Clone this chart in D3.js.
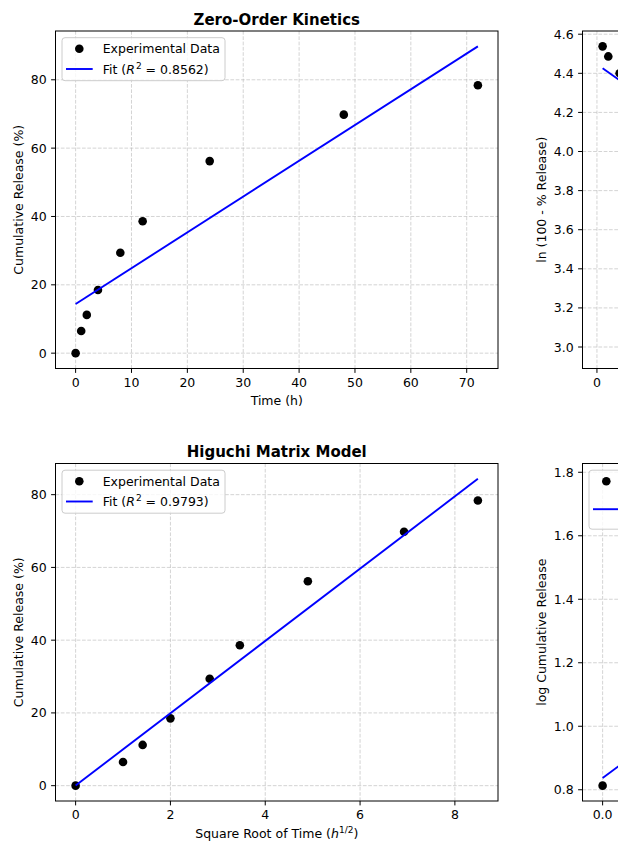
<!DOCTYPE html>
<html><head><meta charset="utf-8">
<script src="https://cdn.jsdelivr.net/npm/d3@7"></script>
<style>
html,body{margin:0;padding:0;background:#fff;overflow:hidden;}
svg{display:block;font-family:"DejaVu Sans",sans-serif;}
</style></head><body>
<svg id="fig" width="618" height="844"></svg>
<script>
// ---- data ----
const timeH = [0, 1, 2, 4, 8, 12, 24, 48, 72];
const releasePct = [0, 6.5, 11.2, 18.5, 29.4, 38.6, 56.2, 69.8, 78.4];
const firstOrderIdx = [1, 2, 3, 4, 5, 6, 7, 8];   // t > 0
const peppasIdx = [1, 2, 3, 4, 5, 6];             // t > 0, release <= 60 %
const panelTitles = ["Zero-Order Kinetics", "First-Order Kinetics", "Higuchi Matrix Model", "Korsmeyer-Peppas Model"];
const r2Labels = ["0.8562", "0.9645", "0.9793", "0.9963"];
const zeroXTicks = [0, 10, 20, 30, 40, 50, 60, 70];
const zeroYTicks = [0, 20, 40, 60, 80];
const firstXTicks = [0, 10, 20, 30, 40, 50, 60, 70];
const firstYTicks = [3.0, 3.2, 3.4, 3.6, 3.8, 4.0, 4.2, 4.4, 4.6];
const higXTicks = [0, 2, 4, 6, 8];
const higYTicks = [0, 20, 40, 60, 80];
const kpXTicks = [0.0, 0.2, 0.4, 0.6, 0.8, 1.0, 1.2, 1.4];
const kpYTicks = [0.8, 1.0, 1.2, 1.4, 1.6, 1.8];

// ---- derived series (same transforms as the original analysis) ----
const sqrtTime = timeH.map(Math.sqrt);
const lnRemain = firstOrderIdx.map(i => Math.log(100 - releasePct[i]));
const logTime = peppasIdx.map(i => Math.log10(timeH[i]));
const logRel = peppasIdx.map(i => Math.log10(releasePct[i]));

function linreg(xs, ys) {
  const mx = d3.mean(xs), my = d3.mean(ys);
  let sxy = 0, sxx = 0;
  xs.forEach((x, i) => { sxy += (x - mx) * (ys[i] - my); sxx += (x - mx) * (x - mx); });
  const m = sxy / sxx;
  return {m, b: my - m * mx};
}

const svg = d3.select("#fig");
const FS = 12.5;
const AW = 442.5, AH = 337.5;
const colX = [55.5, 582.5], rowY = [31, 463.5];

const panels = [
  {col:0,row:0, xs:timeH, ys:releasePct, xT:zeroXTicks, yT:zeroYTicks, xf:d3.format("d"), yf:d3.format("d"),
   title:panelTitles[0], xlabel:"time", ylabel:"Cumulative Release (%)", r2:r2Labels[0], leg:"ul"},
  {col:1,row:0, xs:firstOrderIdx.map(i=>timeH[i]), ys:lnRemain, xT:firstXTicks, yT:firstYTicks, xf:d3.format("d"), yf:d3.format(".1f"),
   title:panelTitles[1], xlabel:"time", ylabel:"ln (100 - % Release)", r2:r2Labels[1], leg:"ur"},
  {col:0,row:1, xs:sqrtTime, ys:releasePct, xT:higXTicks, yT:higYTicks, xf:d3.format("d"), yf:d3.format("d"),
   title:panelTitles[2], xlabel:"sqrt", ylabel:"Cumulative Release (%)", r2:r2Labels[2], leg:"ul"},
  {col:1,row:1, xs:logTime, ys:logRel, xT:kpXTicks, yT:kpYTicks, xf:d3.format(".1f"), yf:d3.format(".1f"),
   title:panelTitles[3], xlabel:"log", ylabel:"log Cumulative Release", r2:r2Labels[3], leg:"ul2"}
];

function pad(lo, hi) { const r = hi - lo; return [lo - 0.05 * r, hi + 0.05 * r]; }

panels.forEach(p => {
  const x0 = colX[p.col], y0 = rowY[p.row], x1 = x0 + AW, y1 = y0 + AH;
  const fit = linreg(p.xs, p.ys);
  const xmin = d3.min(p.xs), xmax = d3.max(p.xs);
  const fitPts = [[xmin, fit.b + fit.m * xmin], [xmax, fit.b + fit.m * xmax]];
  const allY = p.ys.concat(fitPts.map(d => d[1]));
  const x = d3.scaleLinear().domain(pad(xmin, xmax)).range([x0, x1]);
  const y = d3.scaleLinear().domain(pad(d3.min(allY), d3.max(allY))).range([y1, y0]);
  const g = svg.append("g");

  // grid
  const grid = g.append("g").attr("stroke", "#b0b0b0").attr("stroke-opacity", 0.55)
    .attr("stroke-width", 1).attr("stroke-dasharray", "3.7,1.6").attr("fill", "none");
  p.xT.forEach(t => grid.append("line").attr("x1", x(t)).attr("x2", x(t)).attr("y1", y0).attr("y2", y1));
  p.yT.forEach(t => grid.append("line").attr("x1", x0).attr("x2", x1).attr("y1", y(t)).attr("y2", y(t)));

  // points
  g.append("g").selectAll("circle").data(p.xs.map((v, i) => [v, p.ys[i]])).join("circle")
    .attr("cx", d => x(d[0])).attr("cy", d => y(d[1])).attr("r", 4.3).attr("fill", "#000");
  // fit line
  g.append("path").attr("d", d3.line().x(d => x(d[0])).y(d => y(d[1]))(fitPts))
    .attr("stroke", "#0000ff").attr("stroke-width", 1.9).attr("fill", "none");

  // frame
  g.append("rect").attr("x", x0).attr("y", y0).attr("width", AW).attr("height", AH)
    .attr("fill", "none").attr("stroke", "#000").attr("stroke-width", 1);

  // ticks
  const tk = g.append("g").attr("font-size", FS).attr("fill", "#000");
  p.xT.forEach(t => {
    tk.append("line").attr("x1", x(t)).attr("x2", x(t)).attr("y1", y1).attr("y2", y1 + 4.4).attr("stroke", "#000");
    tk.append("text").attr("x", x(t)).attr("y", y1 + 18.3).attr("text-anchor", "middle").text(p.xf(t));
  });
  let maxW = 0;
  p.yT.forEach(t => {
    tk.append("line").attr("x1", x0 - 4.4).attr("x2", x0).attr("y1", y(t)).attr("y2", y(t)).attr("stroke", "#000");
    const tx = tk.append("text").attr("x", x0 - 8.8).attr("y", y(t) + 4.5).attr("text-anchor", "end").text(p.yf(t));
    maxW = Math.max(maxW, tx.node().getComputedTextLength());
  });

  // title
  g.append("text").attr("x", (x0 + x1) / 2).attr("y", y0 - 6.5).attr("text-anchor", "middle")
    .attr("font-size", 15).attr("font-weight", "bold").text(p.title);

  // x label
  const xl = g.append("text").attr("x", (x0 + x1) / 2).attr("text-anchor", "middle").attr("font-size", FS);
  if (p.xlabel === "sqrt") {
    xl.attr("y", y1 + 36.5);
    xl.append("tspan").text("Square Root of Time (");
    xl.append("tspan").attr("font-style", "italic").text("h");
    xl.append("tspan").attr("font-size", 9).attr("dy", -5).text("1/2");
    xl.append("tspan").attr("dy", 5).text(")");
  } else if (p.xlabel === "log") {
    xl.attr("y", y1 + 36).text("log Time");
  } else {
    xl.attr("y", y1 + 36).text("Time (h)");
  }

  // y label
  const lx = x0 - 8.8 - maxW - 5 - 3;
  g.append("text").attr("transform", `translate(${lx},${(y0 + y1) / 2}) rotate(-90)`)
    .attr("text-anchor", "middle").attr("font-size", FS).text(p.ylabel);

  // legend
  const lw = 163, two = p.leg === "ul2";
  const lh = two ? 59 : 43;
  const bx = p.leg === "ur" ? x1 - 6.5 - lw : x0 + 6.5, by = y0 + 6.7;
  const lg = g.append("g");
  lg.append("rect").attr("x", bx).attr("y", by).attr("width", two ? 182 : lw).attr("height", lh)
    .attr("rx", 3).attr("fill", "#fff").attr("fill-opacity", 0.8).attr("stroke", "#cccccc").attr("stroke-width", 1);
  const r1 = by + 11, r2 = two ? by + 39 : by + 31.3;
  lg.append("circle").attr("cx", bx + 17.3).attr("cy", r1).attr("r", 4.3).attr("fill", "#000");
  lg.append("line").attr("x1", bx + 4).attr("x2", bx + 30.7).attr("y1", r2).attr("y2", r2)
    .attr("stroke", "#0000ff").attr("stroke-width", 1.9);
  lg.append("text").attr("x", bx + 40.7).attr("y", r1 + 4.5).attr("font-size", FS).text("Experimental Data");
  const ft = lg.append("text").attr("x", bx + 40.7).attr("y", two ? r2 - 3 : r2 + 4.5).attr("font-size", FS);
  ft.append("tspan").text("Fit (");
  ft.append("tspan").attr("font-style", "italic").text("R");
  ft.append("tspan").attr("font-size", 9).attr("dy", -5).attr("dx", 1).text("2");
  ft.append("tspan").attr("dy", 5).text(" = " + p.r2 + (two ? "," : ")"));
  if (two) {
    lg.append("text").attr("x", bx + 40.7).attr("y", r2 + 12).attr("font-size", FS)
      .text("n = " + d3.format(".4f")(fit.m) + ")");
  }
});

// The reference is a crop of a wider figure: texts lying wholly beyond the
// right edge of the picture are not visible there, so they are dropped here.
const Wfig = +svg.attr("width");
svg.selectAll("text").each(function () {
  const b = this.getBoundingClientRect();
  if (b.left >= Wfig - 1 || b.right > Wfig) this.remove();
});
</script>
</body></html>
